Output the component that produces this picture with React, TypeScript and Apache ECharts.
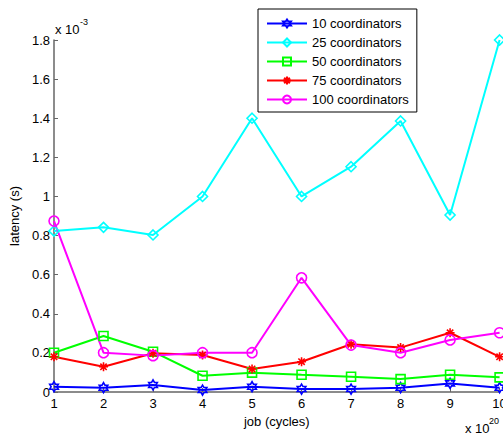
import React, { useEffect, useRef } from "react";
import * as echarts from "echarts";

// x positions (job cycles, x 10^20)
const jobs = [1, 2, 3, 4, 5, 6, 7, 8, 9, 10];
// latency values in units of 10^-3 s
const lat10 = [0.027, 0.022, 0.036, 0.01, 0.027, 0.015, 0.015, 0.022, 0.044, 0.022];
const lat25 = [0.823, 0.842, 0.803, 1.0, 1.4, 1.0, 1.152, 1.386, 0.905, 1.8];
const lat50 = [0.201, 0.286, 0.206, 0.083, 0.099, 0.088, 0.078, 0.066, 0.088, 0.075];
const lat75 = [0.18, 0.129, 0.198, 0.189, 0.118, 0.155, 0.244, 0.227, 0.303, 0.18];
const lat100 = [0.874, 0.201, 0.186, 0.201, 0.201, 0.584, 0.24, 0.201, 0.266, 0.303];
const seriesNames = [
  "10 coordinators",
  "25 coordinators",
  "50 coordinators",
  "75 coordinators",
  "100 coordinators",
];
const seriesValues = [lat10, lat25, lat50, lat75, lat100];
const seriesColors = ["#0000ff", "#00ffff", "#00ff00", "#ff0000", "#ff00ff"];

const FONT = "'Liberation Sans', Arial, sans-serif";

const hexagram =
  "path://M0,-10L2.887,-5L8.66,-5L5.774,0L8.66,5L2.887,5L0,10L-2.887,5L-8.66,5L-5.774,0L-8.66,-5L-2.887,-5Z";
const asterisk =
  "path://M0,-10L0,10M-10,0L10,0M-7.07,-7.07L7.07,7.07M-7.07,7.07L7.07,-7.07";
const symbols = [hexagram, "diamond", "rect", asterisk, "circle"];
const symbolSizes = [10, 10, 9, 9, 10];

export default function App() {
  const ref = useRef<HTMLDivElement>(null);
  useEffect(() => {
    if (!ref.current) return;
    const chart = echarts.init(ref.current, undefined, { renderer: "svg" });
    const series = seriesNames.map((name, i) => ({
      name,
      type: "line",
      data: jobs.map((x, j) => [x, seriesValues[i][j]]),
      symbol: symbols[i],
      symbolSize: symbolSizes[i],
      symbolKeepAspect: true,
      showAllSymbol: true,
      color: seriesColors[i],
      lineStyle: { color: seriesColors[i], width: 2 },
      itemStyle: {
        color: "rgba(0,0,0,0)",
        borderColor: seriesColors[i],
        borderWidth: 1.6,
      },
      emphasis: { disabled: true },
      clip: false,
    }));
    chart.setOption({
      animation: false,
      backgroundColor: "#fff",
      textStyle: { fontFamily: FONT },
      grid: {
        left: 54,
        top: 40,
        right: 3.4,
        bottom: 41,
        containLabel: false,
        outerBoundsMode: "none",
      },
      legend: {
        orient: "vertical",
        left: 258,
        top: 9,
        padding: [8, 8, 6, 8],
        itemWidth: 40,
        itemHeight: 10,
        itemGap: 6,
        backgroundColor: "#fff",
        borderColor: "#000",
        borderWidth: 1,
        textStyle: { fontSize: 13, fontFamily: FONT, color: "#000" },
        data: seriesNames,
      },
      xAxis: {
        type: "value",
        min: 1,
        max: 10,
        interval: 1,
        name: "job (cycles)",
        nameLocation: "middle",
        nameGap: 22,
        nameTextStyle: { fontSize: 13, color: "#000", fontFamily: FONT },
        axisLine: { show: true, onZero: false, lineStyle: { color: "#666", width: 1.5 } },
        axisTick: { show: true, inside: true, length: 4, lineStyle: { color: "#666" } },
        axisLabel: { fontSize: 13, color: "#000", margin: 5, fontFamily: FONT },
        splitLine: { show: false },
      },
      yAxis: {
        type: "value",
        min: 0,
        max: 1.8,
        interval: 0.2,
        name: "latency (s)",
        nameLocation: "middle",
        nameGap: 30,
        nameRotate: 90,
        nameTextStyle: { fontSize: 13, color: "#000", fontFamily: FONT },
        axisLine: { show: true, lineStyle: { color: "#666", width: 1.5 } },
        axisTick: { show: true, inside: true, length: 4, lineStyle: { color: "#666" } },
        axisLabel: {
          fontSize: 13,
          color: "#000",
          margin: 4,
          fontFamily: FONT,
          formatter: (v: number) => String(parseFloat(v.toFixed(1))),
        },
        splitLine: { show: false },
      },
      graphic: [
        {
          type: "text",
          left: 55,
          top: 23,
          style: { text: "x 10", fill: "#000", font: `13px ${FONT}` },
        },
        {
          type: "text",
          left: 80,
          top: 17,
          style: { text: "-3", fill: "#000", font: `9px ${FONT}` },
        },
        {
          type: "text",
          left: 465,
          top: 422,
          style: { text: "x 10", fill: "#000", font: `13px ${FONT}` },
        },
        {
          type: "text",
          left: 489,
          top: 416,
          style: { text: "20", fill: "#000", font: `9px ${FONT}` },
        },
      ],
      series,
    });
    return () => chart.dispose();
  }, []);
  return (
    <div
      ref={ref}
      style={{ position: "fixed", left: 0, top: 0, width: 503, height: 433 }}
    />
  );
}
